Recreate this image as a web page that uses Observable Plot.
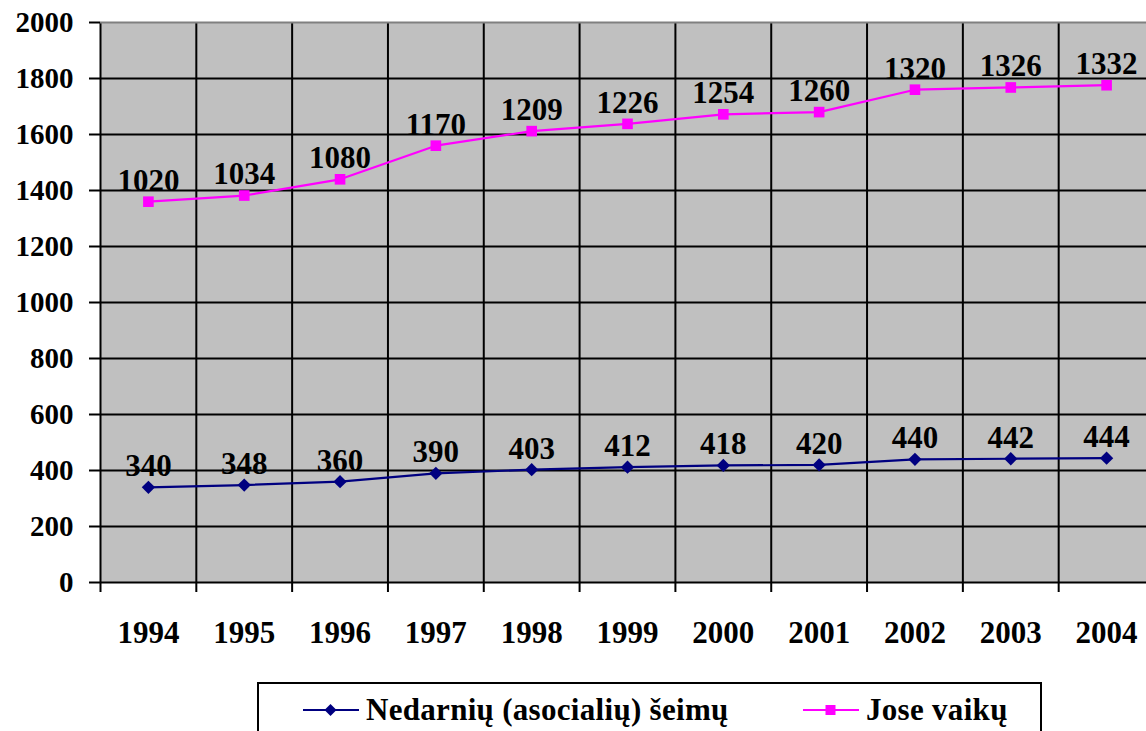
<!DOCTYPE html>
<html>
<head>
<meta charset="utf-8">
<script src="https://cdn.jsdelivr.net/npm/d3@7"></script>
<script src="https://cdn.jsdelivr.net/npm/@observablehq/plot@0.6"></script>
<style>
  html, body { margin: 0; padding: 0; background: #fff; overflow: hidden; width: 1146px; height: 731px; }
  body { position: relative; font-family: "Liberation Serif", "Times New Roman", serif; }
  #chart { position: absolute; left: 0; top: 0; }
  #chart svg text { font-family: "Liberation Serif", "Times New Roman", serif; font-weight: bold; }
  #legend { position: absolute; left: 257px; top: 682px; width: 785px; height: 80px; border: 2px solid #000; background: #fff; box-sizing: border-box; }
  .item { position: absolute; top: 8px; display: flex; align-items: center; font-weight: bold; font-size: 31px; letter-spacing: 0.3px; color: #000; white-space: nowrap; }
  .item svg { margin-right: 7px; }
</style>
</head>
<body>
<div id="chart"></div>
<div id="legend"></div>
<script>
const years = [1994, 1995, 1996, 1997, 1998, 1999, 2000, 2001, 2002, 2003, 2004];
const nedarniu = [340, 348, 360, 390, 403, 412, 418, 420, 440, 442, 444];
const joseVaiku = [1020, 1034, 1080, 1170, 1209, 1226, 1254, 1260, 1320, 1326, 1332];
const seriesNames = ["Nedarnių (asocialių) šeimų", "Jose vaikų"];
const seriesColors = ["#000080", "#ff00ff"];
const seriesSymbols = ["diamond2", "square"];
const yTicks = [0, 200, 400, 600, 800, 1000, 1200, 1400, 1600, 1800, 2000];

const rows = [];
years.forEach((yr, i) => {
  rows.push({year: yr, series: seriesNames[0], value: nedarniu[i]});
  rows.push({year: yr, series: seriesNames[1], value: joseVaiku[i]});
});
const boundaries = years.map(y => y - 0.5).concat([years[years.length - 1] + 0.5]);
const font = "Liberation Serif";

const stackOpts = (extra) => Plot.stackY2({x: "year", y: "value", z: "series", order: seriesNames, ...extra});

const plot = Plot.plot({
  width: 1160,
  height: 680,
  marginLeft: 100,
  marginRight: 6,
  marginTop: 22,
  marginBottom: 98,
  style: {fontFamily: font, maxWidth: "none", background: "transparent", overflow: "visible"},
  x: {domain: [years[0] - 0.5, years[years.length - 1] + 0.5], label: null},
  y: {domain: [0, 2000], label: null},
  color: {domain: seriesNames, range: seriesColors},
  symbol: {domain: seriesNames, range: seriesSymbols},
  marks: [
    Plot.frame({fill: "#c0c0c0", stroke: null}),
    Plot.ruleY(yTicks.filter(v => v > 0 && v < 2000), {stroke: "#000", strokeWidth: 2}),
    Plot.ruleX(boundaries, {y1: 2000, y2: 0, stroke: "#000", strokeWidth: 2, insetBottom: -10}),
    Plot.ruleY([2000], {stroke: "#808080", strokeWidth: 2}),
    Plot.ruleY([0], {stroke: "#000", strokeWidth: 2}),
    Plot.axisY({ticks: yTicks, label: null, tickSize: 11, tickPadding: 16, fontSize: 29, fontWeight: "bold", tickFormat: d => String(d), stroke: "#000", strokeWidth: 2, fill: "#000"}),
    Plot.axisX({ticks: years, label: null, tickSize: 0, tickPadding: 38, fontSize: 31, fontWeight: "bold", tickFormat: d => String(d), fill: "#000"}),
    Plot.lineY(rows, stackOpts({stroke: "series", strokeWidth: 2.2})),
    Plot.dot(rows, stackOpts({fill: "series", symbol: "series", r: 6, stroke: null})),
    Plot.text(rows, stackOpts({text: d => String(d.value), dy: -21, lineAnchor: "middle", fontSize: 31, fontWeight: "bold", fontFamily: font, fill: "#000"}))
  ]
});
document.getElementById("chart").appendChild(plot);

// Legend
const legend = document.getElementById("legend");
const legendLeft = [44, 544];
seriesNames.forEach((name, i) => {
  const item = document.createElement("div");
  item.className = "item";
  item.style.left = legendLeft[i] + "px";
  const sym = i === 0
    ? `<polygon points="27.5,5 33.5,11 27.5,17 21.5,11" fill="${seriesColors[i]}"/>`
    : `<rect x="22.5" y="6" width="10" height="10" fill="${seriesColors[i]}"/>`;
  item.innerHTML = `<svg width="56" height="22"><line x1="0" y1="11" x2="56" y2="11" stroke="${seriesColors[i]}" stroke-width="2"/>${sym}</svg><span>${name}</span>`;
  legend.appendChild(item);
});
</script>
</body>
</html>
